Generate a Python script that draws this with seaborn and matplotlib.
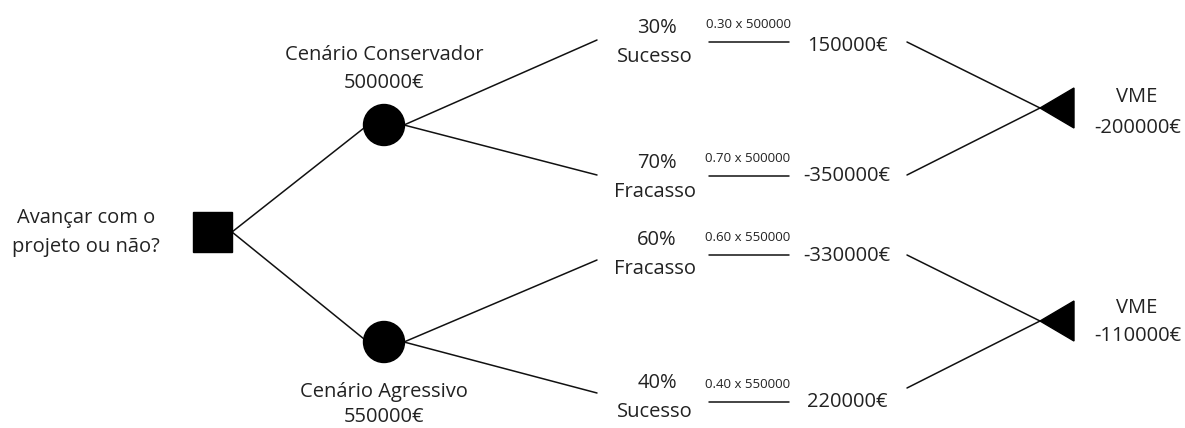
import matplotlib
matplotlib.use("Agg")
import matplotlib.pyplot as plt
from matplotlib.patches import Rectangle, Circle, Polygon
import seaborn as sns
import pandas as pd

# Decision tree data
decision_label = ["Avançar com o", "projeto ou não?"]
scenario_names = ["Cenário Conservador", "Cenário Agressivo"]
scenario_values = [500000, 550000]
outcome_names = ["Sucesso", "Fracasso", "Fracasso", "Sucesso"]
outcome_probs = [0.30, 0.70, 0.60, 0.40]
outcome_signs = [1, -1, -1, 1]
outcome_scenario = [0, 0, 1, 1]
vme_values = [-200000, -110000]

sns.set_theme(style="white")
plt.rcParams["font.family"] = ["Open Sans", "DejaVu Sans"]

fig = plt.figure(figsize=(11.85, 4.28), dpi=100)
ax = fig.add_axes([0, 0, 1, 1])

LC = "#111111"
LW = 1.1
FS = 14.5
TC = "#222222"

# Layout
root = (212, 232)
scen_xy = [(384, 125), (384, 342)]
branch_end_x = 597
branch_end_y = [40, 175, 260, 393]
dash_y = [42, 176, 255, 402]
val_y = [46, 176, 256, 402]
label_y_top = [28, 163, 240, 383]
tri_apex = [(1040, 108), (1040, 321)]

# Edges drawn as a long-form table through seaborn
rows = []
seg = 0
def add(p, q):
    global seg
    rows.append(dict(x=p[0], y=p[1], seg=seg))
    rows.append(dict(x=q[0], y=q[1], seg=seg))
    seg += 1

for s in scen_xy:
    add((232, root[1]), (s[0] - 20, s[1] + (3 if s[1] < root[1] else -3)))
for i, s in enumerate(outcome_scenario):
    add((scen_xy[s][0] + 20, scen_xy[s][1]), (branch_end_x, branch_end_y[i]))
for i in range(4):
    add((709, dash_y[i]), (789, dash_y[i]))
line_start_y = [42, 175, 255, 388]
for i, s in enumerate(outcome_scenario):
    add((907, line_start_y[i]), tri_apex[s])
edges = pd.DataFrame(rows)
sns.lineplot(data=edges, x="x", y="y", units="seg", estimator=None,
             color=LC, lw=LW, ax=ax, sort=False, legend=False)
ax.set_xlim(0, 1185)
ax.set_ylim(428, 0)
ax.axis("off")

# Nodes
ax.add_patch(Rectangle((193, 212), 39, 40, color="black", zorder=3))
for s in scen_xy:
    ax.add_patch(Circle(s, 20.5, color="black", zorder=3))
for a in tri_apex:
    ax.add_patch(Polygon([(a[0], a[1]), (1074, a[1] - 20), (1074, a[1] + 20)],
                         closed=True, color="black", zorder=3))

# Text
kw = dict(ha="center", va="center", fontsize=FS, color=TC)
ax.text(86, 218, decision_label[0], **kw)
ax.text(86, 247, decision_label[1], **kw)

ax.text(384, 55, scenario_names[0], **kw)
ax.text(384, 83, f"{scenario_values[0]}€", **kw)
ax.text(384, 392, scenario_names[1], **kw)
ax.text(384, 417, f"{scenario_values[1]}€", **kw)

for i in range(4):
    p = outcome_probs[i]
    base = scenario_values[outcome_scenario[i]]
    ax.text(657, label_y_top[i], f"{round(p * 100)}%", **kw)
    ax.text(655, label_y_top[i] + 29, outcome_names[i], **kw)
    ax.text(748, dash_y[i] - 18, f"{p:.2f} x {base}", ha="center", va="center",
            fontsize=9.5, color=TC)
    val = outcome_signs[i] * round(p * base)
    ax.text(847, val_y[i], f"{val}€", **kw)

vme_y = [(97, 128), (308, 336)]
for k in range(2):
    ax.text(1137, vme_y[k][0], "VME", **kw)
    ax.text(1138, vme_y[k][1], f"{vme_values[k]}€", **kw)

fig.savefig("out.png", dpi=100, facecolor="white")
